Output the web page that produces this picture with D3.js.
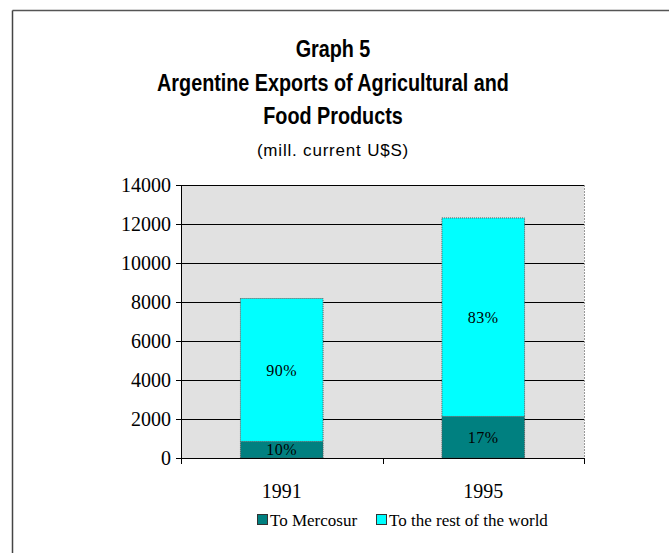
<!DOCTYPE html>
<html>
<head>
<meta charset="utf-8">
<script src="https://cdn.jsdelivr.net/npm/d3@7"></script>
<style>
  body { margin: 0; background: #fff; }
  svg { display: block; }
</style>
</head>
<body>
<script>
// data (mill. current U$S)
var years = ["1991", "1995"];
var toMercosur = [850, 2130];
var toRestOfWorld = [7330, 10180];
var mercosurPct = ["10%", "17%"];
var restPct = ["90%", "83%"];
var yTicks = [0, 2000, 4000, 6000, 8000, 10000, 12000, 14000];
var seriesNames = ["To Mercosur", "To the rest of the world"];
var seriesColors = ["#008080", "#00ffff"];

var width = 669, height = 553;
var plotLeft = 181, plotRight = 584, plotTop = 185, plotBottom = 458;

var svg = d3.select("body").append("svg")
    .attr("width", width)
    .attr("height", height);

// outer frame (top + left only visible)
svg.append("line").attr("x1", 12.5).attr("x2", width).attr("y1", 10.5).attr("y2", 10.5)
    .attr("stroke", "#555").attr("stroke-width", 1.5);
svg.append("line").attr("x1", 12.5).attr("x2", 12.5).attr("y1", 10.5).attr("y2", height)
    .attr("stroke", "#444").attr("stroke-width", 1.5);

// titles - condensed bold sans
var titleLines = ["Graph 5", "Argentine Exports of Agricultural and", "Food Products"];
svg.selectAll(".title").data(titleLines).enter().append("text")
    .attr("class", "title")
    .attr("transform", function(d, i) { return "translate(333," + (57 + i * 33.5) + ") scale(0.86,1)"; })
    .attr("text-anchor", "middle")
    .style("font-family", "Liberation Sans, Arial, sans-serif")
    .style("font-weight", "bold")
    .style("font-size", "23px")
    .text(function(d) { return d; });

svg.append("text")
    .attr("x", 333).attr("y", 156)
    .attr("text-anchor", "middle")
    .style("font-family", "Liberation Sans, Arial, sans-serif")
    .style("font-size", "17px")
    .style("letter-spacing", "0.8px")
    .text("(mill. current U$S)");

var xScale = d3.scaleBand()
    .domain(years)
    .range([plotLeft, plotRight]);

var yScale = d3.scaleLinear()
    .domain([0, 14000])
    .range([plotBottom, plotTop]);

// plot background
svg.append("rect")
    .attr("x", plotLeft).attr("y", plotTop)
    .attr("width", plotRight - plotLeft).attr("height", plotBottom - plotTop)
    .attr("fill", "#e1e1e1");
svg.append("line")
    .attr("x1", plotRight + 0.5).attr("x2", plotRight + 0.5)
    .attr("y1", plotTop).attr("y2", plotBottom)
    .attr("stroke", "#999").attr("stroke-dasharray", "2,1");

// gridlines
svg.append("g").selectAll("line").data(yTicks.slice(1)).enter().append("line")
    .attr("x1", plotLeft).attr("x2", plotRight)
    .attr("y1", function(d) { return Math.round(yScale(d)) + 0.5; })
    .attr("y2", function(d) { return Math.round(yScale(d)) + 0.5; })
    .attr("stroke", "#000");

// stacked bars
var barW = xScale.bandwidth() * 0.41;
var stacks = years.map(function(y, i) {
    return [
        {year: y, y0: 0, y1: toMercosur[i], color: seriesColors[0], label: mercosurPct[i]},
        {year: y, y0: toMercosur[i], y1: toMercosur[i] + toRestOfWorld[i], color: seriesColors[1], label: restPct[i]}
    ];
});
var segs = [].concat.apply([], stacks);

var barG = svg.append("g");
barG.selectAll("rect").data(segs).enter().append("rect")
    .attr("x", function(d) { return xScale(d.year) + (xScale.bandwidth() - barW) / 2; })
    .attr("y", function(d) { return yScale(d.y1); })
    .attr("width", barW)
    .attr("height", function(d) { return yScale(d.y0) - yScale(d.y1); })
    .attr("fill", function(d) { return d.color; })
    .attr("stroke", "#555")
    .attr("stroke-width", 1)
    .attr("stroke-dasharray", "1,1");

barG.selectAll("text").data(segs).enter().append("text")
    .attr("x", function(d) { return xScale(d.year) + xScale.bandwidth() / 2; })
    .attr("y", function(d) { return (yScale(d.y0) + yScale(d.y1)) / 2; })
    .attr("dy", "0.35em")
    .attr("text-anchor", "middle")
    .style("font-family", "Liberation Serif, Times New Roman, serif")
    .style("font-size", "16px")
    .style("letter-spacing", "0.5px")
    .text(function(d) { return d.label; });

// y axis
var yAxis = d3.axisLeft(yScale).tickValues(yTicks).tickFormat(d3.format("d")).tickSize(5).tickPadding(5);
var yG = svg.append("g").attr("transform", "translate(" + plotLeft + ",0)").call(yAxis);
yG.select(".domain").attr("d", "M0.5," + plotTop + "V" + (plotBottom + 6));
yG.selectAll(".tick text")
    .style("font-family", "Liberation Serif, Times New Roman, serif")
    .style("font-size", "20px")
    .attr("fill", "#000");

// x axis: ticks at the band edges
var xAxis = d3.axisBottom(xScale).tickSize(0).tickPadding(26);
var xG = svg.append("g").attr("transform", "translate(0," + plotBottom + ")").call(xAxis);
xG.select(".domain").attr("d", "M" + plotLeft + ",0.5H" + (plotRight + 1));
xG.selectAll(".tick text")
    .style("font-family", "Liberation Serif, Times New Roman, serif")
    .style("font-size", "20px")
    .attr("fill", "#000");
var edges = years.map(function(y) { return xScale(y); }).concat([plotRight]);
xG.selectAll(".edge").data(edges).enter().append("line")
    .attr("class", "edge")
    .attr("x1", function(d) { return Math.round(d) + 0.5; })
    .attr("x2", function(d) { return Math.round(d) + 0.5; })
    .attr("y1", 0).attr("y2", 6)
    .attr("stroke", "#000");

// legend
var legendX = [257, 376];
var lg = svg.append("g");
seriesNames.forEach(function(name, i) {
    lg.append("rect")
        .attr("x", legendX[i] + 0.5).attr("y", 514.5)
        .attr("width", 10).attr("height", 10)
        .attr("fill", seriesColors[i])
        .attr("stroke", "#333");
    lg.append("text")
        .attr("x", legendX[i] + 13).attr("y", 526)
        .style("font-family", "Liberation Serif, Times New Roman, serif")
        .style("font-size", "17px")
        .text(name);
});
</script>
</body>
</html>
